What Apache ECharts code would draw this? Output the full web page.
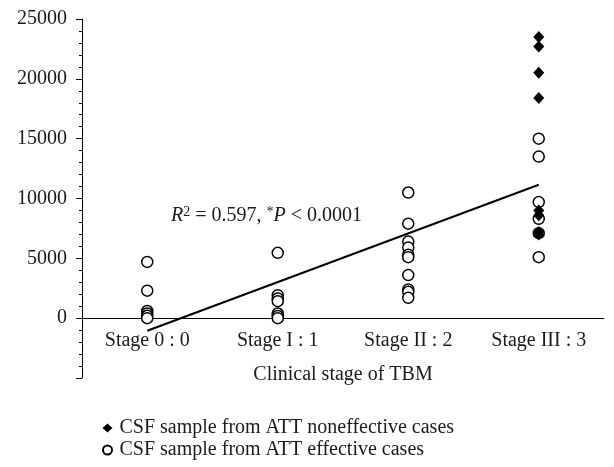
<!DOCTYPE html>
<html><head><meta charset="utf-8">
<script src="https://cdn.jsdelivr.net/npm/echarts@6/dist/echarts.min.js"></script>
<style>html,body{margin:0;padding:0;background:#fff}#c{width:614px;height:467px}</style>
</head><body><div id="c"></div>
<script>
const categories = ['Stage 0 : 0', 'Stage I : 1', 'Stage II : 2', 'Stage III : 3'];
const effective0 = [4700, 2300, 600, 400, 200, 0];
const effective1 = [5460, 1920, 1650, 1420, 390, 190, 0];
const effective2 = [10500, 7900, 6400, 5900, 5300, 5100, 3600, 2400, 2200, 1700];
const effective3 = [15000, 13500, 9700, 8300, 7100, 5100];
const nonEffective3 = [23500, 22700, 20500, 18400, 9000, 8600, 7200, 7000];
const fitLine = [-1050, 11150];
const yTicks = [0, 5000, 10000, 15000, 20000, 25000];

const font = '"Liberation Serif","DejaVu Serif",serif';
const effData = [];
[effective0, effective1, effective2, effective3].forEach((arr, i) => arr.forEach(v => effData.push([i, v])));
const nonData = nonEffective3.map(v => [3, v]);

const chart = echarts.init(document.getElementById('c'));
chart.setOption({
  animation: false,
  textStyle: { fontFamily: font, color: '#1a1a1a' },
  grid: { left: 82, right: 10, top: 19, bottom: 89 },
  xAxis: {
    type: 'category', data: categories, offset: -60,
    name: 'Clinical stage of TBM', nameLocation: 'middle', nameGap: 47,
    nameTextStyle: { fontFamily: font, fontSize: 20, color: '#1a1a1a' },
    axisLine: { onZero: false, lineStyle: { color: '#000', width: 1 } },
    axisTick: { inside: true, length: 5, lineStyle: { color: '#000' } },
    axisLabel: { fontFamily: font, fontSize: 20, color: '#1a1a1a', margin: 13 },
    splitLine: { show: false }
  },
  yAxis: {
    type: 'value', min: -5000, max: 25000, interval: 5000,
    axisLine: { show: true, lineStyle: { color: '#000' } },
    axisTick: { show: true, length: 6, lineStyle: { color: '#000' } },
    minorTick: { show: true, splitNumber: 5, length: 3, lineStyle: { color: '#000' } },
    axisLabel: { fontFamily: font, fontSize: 20, color: '#1a1a1a', margin: 15,
      formatter: v => yTicks.indexOf(v) >= 0 ? String(v) : '' },
    splitLine: { show: false }
  },
  legend: {
    orient: 'vertical', left: 97, top: 413, itemGap: 2, itemWidth: 10, itemHeight: 9,
    textStyle: { fontFamily: font, fontSize: 20, color: '#1a1a1a', padding: [0, 0, 0, 2] },
    data: ['CSF sample from ATT noneffective cases', 'CSF sample from ATT effective cases']
  },
  series: [
    { name: 'fit', type: 'line', data: [[0, fitLine[0]], [3, fitLine[1]]], symbol: 'none',
      lineStyle: { color: '#000', width: 2 }, z: 1, silent: true },
    { name: 'CSF sample from ATT effective cases', type: 'scatter', data: effData,
      symbol: 'circle', symbolSize: 11,
      itemStyle: { color: '#fff', borderColor: '#000', borderWidth: 1.5, opacity: 1 }, z: 3 },
    { name: 'CSF sample from ATT noneffective cases', type: 'scatter', data: nonData,
      symbol: 'diamond', symbolSize: [11, 12],
      itemStyle: { color: '#000', borderColor: '#000', borderWidth: 0, opacity: 1 }, z: 4 }
  ],
  graphic: [{
    type: 'text', left: 171, top: 205,
    style: {
      text: '{i|R}{s|2} = 0.597, {s|*}{i|P} < 0.0001',
      font: '20px ' + font, fill: '#1a1a1a',
      rich: {
        i: { fontStyle: 'italic', fontFamily: font, fontSize: 20 },
        s: { fontSize: 14, fontFamily: font, verticalAlign: 'top', padding: [0, 0, 8, 0] }
      }
    }
  }]
});
</script></body></html>
